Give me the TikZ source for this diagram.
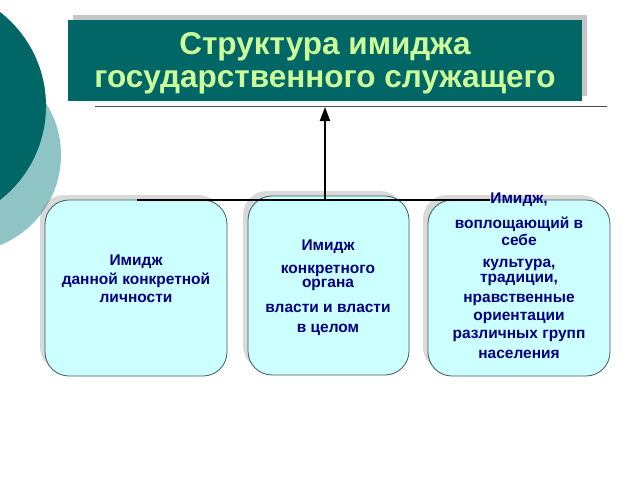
\documentclass[tikz,border=0pt]{standalone}
\usepackage{fontspec}
\setmainfont{Liberation Sans}
\definecolor{colorTeal}{RGB}{0,102,102}
\definecolor{colorTealLight}{RGB}{143,196,196}
\definecolor{colorTitleText}{RGB}{204,255,153}
\definecolor{colorBox}{RGB}{204,255,255}
\definecolor{colorBoxText}{RGB}{0,0,128}
\definecolor{colorBoxBorder}{RGB}{60,90,90}
\usetikzlibrary{arrows.meta, shadows}

\begin{document}
\begin{tikzpicture}[x=1pt, y=-1pt, thick,
  titlebox/.style={fill=colorTeal, minimum width=514pt, minimum height=81pt, inner sep=0pt, text=colorTitleText, font=\fontsize{31.5}{33}\selectfont\bfseries, align=center, drop shadow={shadow xshift=5pt, shadow yshift=5pt, fill=gray, opacity=0.45}},
  imagebox/.style={draw=colorBoxBorder, line width=0.8pt, fill=colorBox, rounded corners=24pt, inner sep=0pt, minimum width=182pt, minimum height=176pt, drop shadow={shadow xshift=-5pt, shadow yshift=5pt, fill=gray, opacity=0.3}},
  boxtext/.style={text=colorBoxText, font=\fontsize{15.5}{17}\selectfont\bfseries, align=center}]
\useasboundingbox (0,0) rectangle (640,480);
% background circles
\begin{scope}
\clip (0,0) rectangle (640,480);
\fill[colorTealLight] (-36,155) circle (97pt);
\fill[colorTeal] (-73,106) circle (119pt);
\end{scope}
\node[titlebox] (title) at (325,60.5) {\raisebox{-3.5pt}[\height][\depth]{\begin{tabular}{@{}c@{}}Структура имиджа\\государственного служащего\end{tabular}}};
\node[imagebox] (boxA) at (136,288) {};
\node[imagebox, minimum width=161pt, minimum height=179pt] (boxB) at (328.5,285.5) {};
\node[imagebox] (boxC) at (519,288) {};
% connectors
\coordinate (ruleL) at (95,106);
\coordinate (ruleR) at (607,106);
\coordinate (ruleM) at (325,107);
\coordinate (busL) at (137,200);
\coordinate (busR) at (490,200);
\coordinate (busM) at (325,200);
\draw[line width=0.8pt, black!70] (ruleL) -- (ruleR);
\draw[line width=2pt] (busL) -- (busR);
\draw[line width=2pt, -{Triangle[length=14pt,width=10pt]}] (busM) -- (ruleM);
% texts
\node[boxtext, font=\fontsize{15.5}{18.5}\selectfont\bfseries] (textA) at (136,279) {Имидж\\данной конкретной\\личности};
\node[boxtext] (textB) at (328,288) {Имидж\\[6pt]конкретного\\[-3pt]органа\\[8pt]власти и власти\\[3pt]в целом};
\node[boxtext] (textC) at (519,276) {Имидж,\\[8pt]воплощающий в\\себе\\[5pt]культура,\\[-2pt]традиции,\\[3pt]нравственные\\[1pt]ориентации\\[1pt]различных групп\\[3pt]населения};
\end{tikzpicture}
\end{document}
